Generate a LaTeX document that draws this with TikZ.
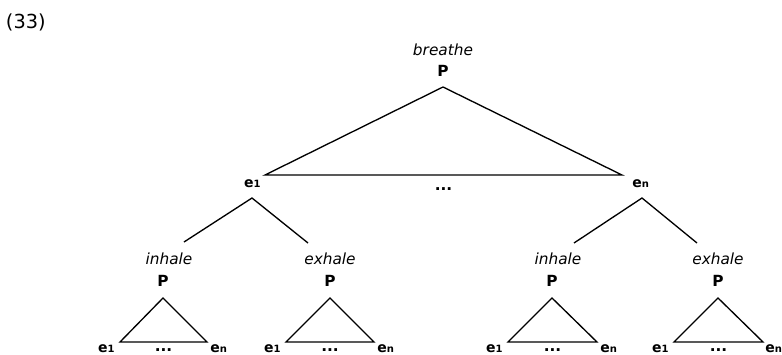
\documentclass[tikz,border=0pt]{standalone}
\usepackage{fontspec}
\setmainfont{DejaVu Sans}
\usetikzlibrary{positioning}

% event variable: bold e with a small index sitting on the line
\newcommand{\ev}[1]{\textbf{e}{\fontsize{7.5}{9}\selectfont\textbf{#1}}}

\begin{document}
\begin{tikzpicture}[x=0.75pt,y=-0.75pt,line width=1pt,
  every node/.style={font=\fontsize{11.5}{13}\selectfont,inner sep=1pt},
  cat/.style={font=\fontsize{11.5}{13}\selectfont\bfseries},
  verb/.style={font=\fontsize{11.5}{13}\selectfont\itshape},
  elbl/.style={font=\fontsize{10.5}{12}\selectfont,inner sep=0.5pt},
  elps/.style={font=\fontsize{11.5}{13}\selectfont\bfseries}]
\useasboundingbox (0,0) rectangle (782,354);
\node[anchor=west,font=\fontsize{14.5}{16}\selectfont] (ex) at (4,22) {(33)};

% breathe
\coordinate (br) at (443,87);
\coordinate (br1) at (265,175);
\coordinate (brn) at (622,175);
\draw (br) -- (br1) -- (brn) -- cycle;
\node[cat,above=6.5pt of br] (brP) {P};
\node[verb,above=4pt of brP] (brV) {breathe};
\node[elbl,anchor=base east] (brE1) at ([shift={(-3,12)}]br1) {\ev1};
\node[elbl,anchor=base west] (brEn) at ([shift={(9,12)}]brn) {\ev n};
\path (br1) -- node[elps,below=8pt] (brD) {...} (brn);

% branches under e1 and en
\coordinate (l) at (252,198);
\coordinate (lA) at (184,242);
\coordinate (lB) at (308,243);
\draw (lA) -- (l) -- (lB);
\coordinate (r) at (642,198);
\coordinate (rA) at (574,243);
\coordinate (rB) at (697,243);
\draw (rA) -- (r) -- (rB);

% inhale under e1
\coordinate (li) at (163,298);
\coordinate (li1) at (120,342);
\coordinate (lin) at (207,342);
\draw (li) -- (li1) -- (lin) -- cycle;
\node[cat,above=7.25pt of li] (liP) {P};
\node[verb,above=4.75pt of liP,xshift=4.5pt] (liV) {inhale};
\node[elbl,anchor=base east] (liE1) at ([shift={(-4,10)}]li1) {\ev1};
\node[elbl,anchor=base west] (liEn) at ([shift={(2,10)}]lin) {\ev n};
\path (li1) -- node[elps,below=3.5pt] (liD) {...} (lin);

% exhale under e1
\coordinate (le) at (330,298);
\coordinate (le1) at (286,342);
\coordinate (len) at (374,342);
\draw (le) -- (le1) -- (len) -- cycle;
\node[cat,above=7.25pt of le] (leP) {P};
\node[verb,above=4.75pt of leP] (leV) {exhale};
\node[elbl,anchor=base east] (leE1) at ([shift={(-4,10)}]le1) {\ev1};
\node[elbl,anchor=base west] (leEn) at ([shift={(2,10)}]len) {\ev n};
\path (le1) -- node[elps,below=3.5pt] (leD) {...} (len);

% inhale under en
\coordinate (ri) at (552,298);
\coordinate (ri1) at (508,342);
\coordinate (rin) at (597,342);
\draw (ri) -- (ri1) -- (rin) -- cycle;
\node[cat,above=7.25pt of ri] (riP) {P};
\node[verb,above=4.75pt of riP,xshift=4.5pt] (riV) {inhale};
\node[elbl,anchor=base east] (riE1) at ([shift={(-4,10)}]ri1) {\ev1};
\node[elbl,anchor=base west] (riEn) at ([shift={(2,10)}]rin) {\ev n};
\path (ri1) -- node[elps,below=3.5pt] (riD) {...} (rin);

% exhale under en
\coordinate (re) at (718,298);
\coordinate (re1) at (674,342);
\coordinate (ren) at (763,342);
\draw (re) -- (re1) -- (ren) -- cycle;
\node[cat,above=7.25pt of re] (reP) {P};
\node[verb,above=4.75pt of reP] (reV) {exhale};
\node[elbl,anchor=base east] (reE1) at ([shift={(-4,10)}]re1) {\ev1};
\node[elbl,anchor=base west] (reEn) at ([shift={(1,10)}]ren) {\ev n};
\path (re1) -- node[elps,below=3.5pt] (reD) {...} (ren);
\end{tikzpicture}
\end{document}
